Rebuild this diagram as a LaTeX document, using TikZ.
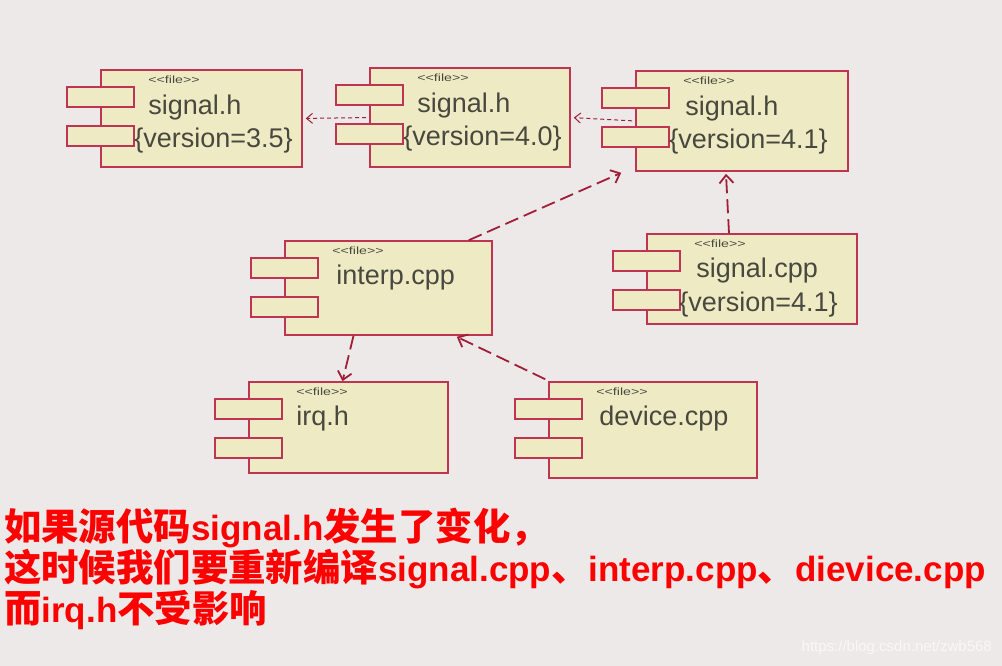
\documentclass[tikz,border=0pt]{standalone}
\usepackage{fontspec}
\setmainfont{Liberation Sans}
\newfontfamily\cjk{Noto Sans CJK SC}
\usepackage{tikz}
\usetikzlibrary{positioning}
\usetikzlibrary{arrows.meta}
\usetikzlibrary{calc}

\definecolor{bgcol}{RGB}{236,233,232}
\definecolor{boxfill}{RGB}{238,235,196}
\definecolor{boxline}{RGB}{190,52,82}
\definecolor{arrcol}{RGB}{160,30,56}
\definecolor{txtcol}{RGB}{72,72,62}
\definecolor{markcol}{RGB}{250,248,246}

\newcommand{\zh}[1]{{\cjk\fontsize{37.4}{41}\selectfont #1}}
\newcommand{\filetag}{\scalebox{1.35}[1]{<{}<file>{}>}}

\tikzset{
  filebox/.style={draw=boxline, fill=boxfill, line width=1.6pt, inner sep=0pt},
  filetab/.style={draw=boxline, fill=boxfill, line width=1.6pt, inner sep=0pt,
                  minimum width=67pt, minimum height=20pt},
  stereo/.style={anchor=west, inner sep=0pt, text=txtcol, font=\fontsize{10.5}{10.5}\selectfont},
  fname/.style={anchor=west, inner sep=0pt, text=txtcol, font=\fontsize{27}{27}\selectfont},
  fver/.style={anchor=west, inner sep=0pt, text=txtcol, font=\fontsize{27}{27}\selectfont},
  dep/.style={draw=arrcol, line width=1.8pt, dash pattern=on 14pt off 6pt,
              -{Straight Barb[length=8pt,width=14pt]}},
  depshort/.style={draw=arrcol, line width=1pt, dash pattern=on 4pt off 3pt,
                   -{Straight Barb[length=6pt,width=10pt]}, shorten >=3pt, shorten <=3pt}
}

\begin{document}
\begin{tikzpicture}[x=1pt,y=-1pt]
    \useasboundingbox (0,0) rectangle (1002,666);
    \fill[bgcol] (0,0) rectangle (1002,666);

    % file boxes
    \node[filebox, minimum width=201pt, minimum height=97pt]  (sig35)  at (201.5,118.5) {};
    \node[filebox, minimum width=200pt, minimum height=99pt]  (sig40)  at (470,117.5) {};
    \node[filebox, minimum width=212pt, minimum height=100pt] (sig41)  at (742,121) {};
    \node[filebox, minimum width=207pt, minimum height=94pt]  (interp) at (388.5,288) {};
    \node[filebox, minimum width=210pt, minimum height=90pt]  (sigcpp) at (752,279) {};
    \node[filebox, minimum width=199pt, minimum height=91pt]  (irq)    at (348.5,427.5) {};
    \node[filebox, minimum width=208pt, minimum height=96pt]  (device) at (653,430) {};

    \foreach \b in {sig35,sig40,sig41,interp,sigcpp,irq,device} {
        \node[filetab] (\b-t1) at ([yshift=-28pt]\b.north west) {};
        \node[filetab] (\b-t2) at ([yshift=-67pt]\b.north west) {};
        \node[stereo]  (\b-st) at ([xshift=48pt,yshift=-11pt]\b.north west) {\filetag};
    }

    % names
    \node[fname] (sig35-n)  at ([xshift=48pt,yshift=-38pt]sig35.north west)  {signal.h};
    \node[fname] (sig40-n)  at ([xshift=48pt,yshift=-38pt]sig40.north west)  {signal.h};
    \node[fname] (sig41-n)  at ([xshift=50pt,yshift=-38pt]sig41.north west)  {signal.h};
    \node[fname] (interp-n) at ([xshift=52pt,yshift=-37pt]interp.north west) {interp.cpp};
    \node[fname] (sigcpp-n) at ([xshift=50pt,yshift=-37pt]sigcpp.north west) {signal.cpp};
    \node[fname] (irq-n)    at ([xshift=48pt,yshift=-37pt]irq.north west)    {irq.h};
    \node[fname] (device-n) at ([xshift=51pt,yshift=-37pt]device.north west) {device.cpp};

    \node[fver] (sig35-v)  at ([xshift=34pt,yshift=-71pt]sig35.north west)  {\{version=3.5\}};
    \node[fver] (sig40-v)  at ([xshift=34pt,yshift=-71pt]sig40.north west)  {\{version=4.0\}};
    \node[fver] (sig41-v)  at ([xshift=34pt,yshift=-71pt]sig41.north west)  {\{version=4.1\}};
    \node[fver] (sigcpp-v) at ([xshift=33pt,yshift=-71pt]sigcpp.north west) {\{version=4.1\}};

    % dependencies
    \draw[depshort] (sig40.west) -- (sig35.east);
    \draw[depshort] (sig41.west) -- (sig40.east);
    \draw[dep] ([xshift=-24pt]interp.north east) -- ([xshift=-14pt,yshift=-1pt]sig41.south west);
    \draw[dep] ([xshift=-23pt]sigcpp.north) -- ([xshift=-16pt,yshift=-2pt]sig41.south);
    \draw[dep] ([xshift=-35pt]interp.south) -- ([xshift=-6pt]irq.north);
    \draw[dep] ([xshift=-3pt,yshift=2pt]device.north west) -- ([xshift=-36pt,yshift=-1pt]interp.south east);

    % note
    \node[anchor=north west, inner sep=0pt, align=left, text=red,
          font=\fontsize{35}{41}\selectfont\bfseries] (note) at (4,508)
        {\zh{如果源代码}signal.h\zh{发生了变化，}\\
         \zh{这时候我们要重新编译}signal.cpp\zh{、}interp.cpp\zh{、}dievice.cpp\\
         \zh{而}irq.h\zh{不受影响}};

    \node[anchor=east, inner sep=0pt, text=markcol, font=\fontsize{15}{15}\selectfont]
        (mark) at (992,648) {https://blog.csdn.net/zwb568};
\end{tikzpicture}
\end{document}
